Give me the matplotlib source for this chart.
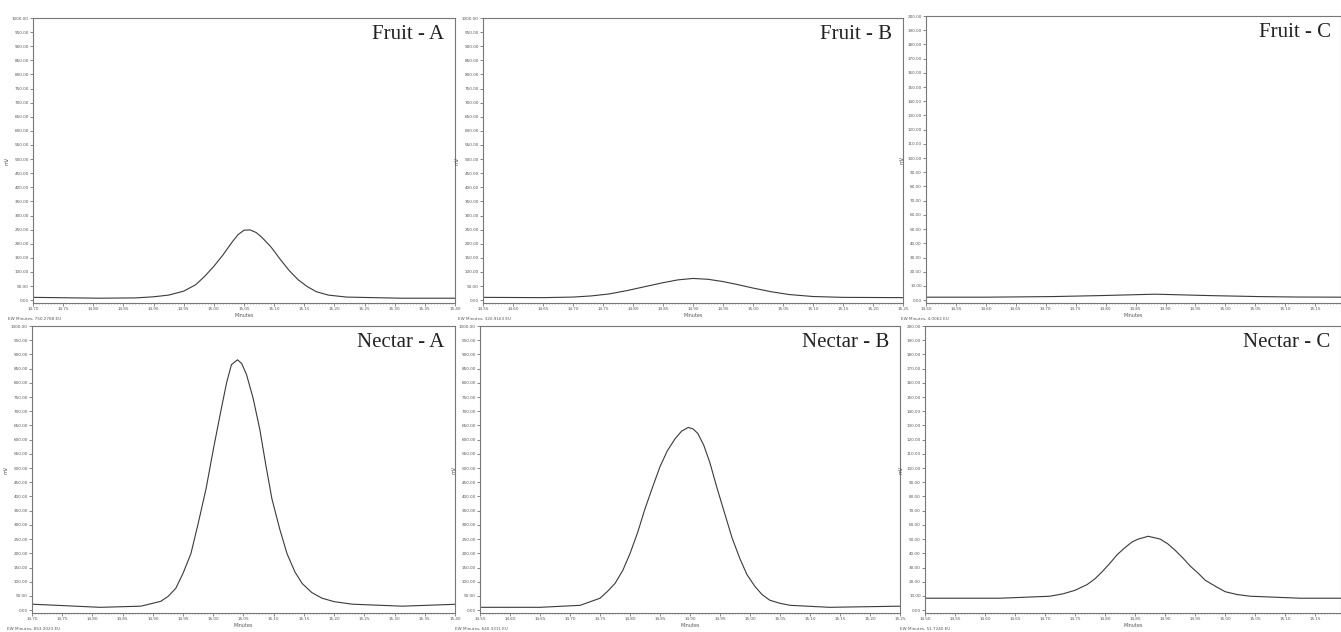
import numpy as np
import matplotlib.pyplot as plt
from matplotlib.ticker import MultipleLocator, FormatStrFormatter

fruit_a_t = [14.70, 14.81, 14.87, 14.90, 14.925, 14.95, 14.97, 14.985, 15.00, 15.015,
             15.03, 15.04, 15.05, 15.06, 15.07, 15.08, 15.095, 15.11, 15.125, 15.14,
             15.155, 15.17, 15.19, 15.22, 15.31, 15.40]
fruit_a_mv = [10, 7, 8, 12, 18, 32, 55, 85, 120, 160,
              205, 232, 248, 249, 240, 222, 188, 145, 105, 72,
              48, 30, 18, 11, 7, 7]

fruit_b_t = [14.55, 14.65, 14.70, 14.73, 14.76, 14.79, 14.82, 14.85, 14.875, 14.90,
             14.925, 14.95, 14.975, 15.00, 15.03, 15.06, 15.10, 15.15, 15.25]
fruit_b_mv = [10, 9, 11, 15, 22, 34, 48, 62, 72, 77,
              74, 66, 55, 43, 30, 20, 13, 10, 9]

fruit_c_t = [14.50, 14.60, 14.708, 14.79, 14.883, 14.975, 15.058, 15.12, 15.193]
fruit_c_mv = [2.1, 2.1, 2.5, 3.2, 4.2, 3.2, 2.5, 2.2, 2.1]

nectar_a_t = [14.70, 14.813, 14.88, 14.913, 14.925, 14.938, 14.95, 14.963, 14.975, 14.988,
              15.00, 15.013, 15.022, 15.03, 15.04, 15.047, 15.055, 15.066, 15.077, 15.087,
              15.097, 15.11, 15.122, 15.135, 15.147, 15.163, 15.18, 15.20, 15.23, 15.313,
              15.405]
nectar_a_mv = [21, 10, 14, 31, 48, 77, 130, 199, 305, 427,
               565, 706, 800, 864, 881, 868, 829, 745, 636, 510,
               392, 285, 199, 135, 94, 62, 42, 30, 21, 14,
               21]

nectar_b_t = [14.55, 14.65, 14.717, 14.75, 14.762, 14.775, 14.788, 14.80, 14.813, 14.825,
              14.838, 14.85, 14.862, 14.875, 14.886, 14.897, 14.905, 14.913, 14.923, 14.933,
              14.945, 14.958, 14.97, 14.983, 14.995, 15.008, 15.02, 15.033, 15.05, 15.067,
              15.133, 15.25]
nectar_b_mv = [10, 10, 17, 42, 65, 94, 140, 199, 275, 357,
               435, 505, 560, 603, 630, 643, 638, 622, 580, 520,
               430, 339, 255, 182, 125, 84, 55, 35, 24, 17,
               10, 14]

nectar_c_t = [14.50, 14.625, 14.708, 14.73, 14.75, 14.77, 14.783, 14.795, 14.808, 14.82,
              14.833, 14.845, 14.855, 14.872, 14.892, 14.905, 14.917, 14.93, 14.942, 14.955,
              14.967, 14.985, 15.00, 15.02, 15.042, 15.125, 15.193]
nectar_c_mv = [8.4, 8.4, 9.8, 11.5, 14, 18, 22, 27, 33, 39,
               44, 48, 50, 52, 50, 46.5, 42, 36.5, 31, 26,
               21, 16.5, 13, 11, 9.8, 8.4, 8.4]

panels = [
    # (nombre, t, mV, xmin, xmax, ymax, paso y, texto pie)
    ("Fruit - A", fruit_a_t, fruit_a_mv, 14.70, 15.40, 1000, 50, "EW Minutes, 750.2788 EU"),
    ("Fruit - B", fruit_b_t, fruit_b_mv, 14.55, 15.25, 1000, 50, "EW Minutes, 320.9163 EU"),
    ("Fruit - C", fruit_c_t, fruit_c_mv, 14.50, 15.193, 200, 10, "EW Minutes, 4.0062 EU"),
    ("Nectar - A", nectar_a_t, nectar_a_mv, 14.70, 15.40, 1000, 50, "EW Minutes, 853.2023 EU"),
    ("Nectar - B", nectar_b_t, nectar_b_mv, 14.55, 15.25, 1000, 50, "EW Minutes, 640.3311 EU"),
    ("Nectar - C", nectar_c_t, nectar_c_mv, 14.50, 15.193, 200, 10, "EW Minutes, 51.7240 EU"),
]

W, H = 1341, 632
# posiciones de los ejes en pixeles (izq, der, arriba, abajo)
boxes = [
    (33, 455, 18, 303), (483, 903, 18, 303), (926, 1341, 16, 303),
    (32, 455, 326, 613), (480, 900, 326, 613), (925, 1341, 326, 613),
]

fig = plt.figure(figsize=(W / 100, H / 100), dpi=100)
line_col = "#3a3a3a"

for (name, t, mv, x0, x1, ymax, ystep, foot), (l, r, tp, b) in zip(panels, boxes):
    ax = fig.add_axes([l / W, 1 - b / H, (r - l) / W, (b - tp) / H])
    ax.plot(t, mv, color=line_col, lw=0.8)
    ax.set_xlim(x0, x1)
    ax.set_ylim(-ymax * 0.01, ymax)
    ax.yaxis.set_major_locator(MultipleLocator(ystep))
    ax.yaxis.set_major_formatter(FormatStrFormatter("%.2f"))
    ax.xaxis.set_major_locator(MultipleLocator(0.05))
    ax.xaxis.set_minor_locator(MultipleLocator(0.005))
    ax.xaxis.set_major_formatter(FormatStrFormatter("%.2f"))
    ax.tick_params(axis="both", labelsize=3, length=2, width=0.5, pad=1,
                   colors="#555555")
    ax.tick_params(axis="x", which="minor", length=1, width=0.4, colors="#777777")
    for s in ax.spines.values():
        s.set_color("#777777")
        s.set_linewidth(0.8)
    ax.set_ylabel("mV", fontsize=3.5, labelpad=2, color="#555555")
    ax.set_xlabel("Minutes", fontsize=3.5, labelpad=1, color="#555555")
    ax.text(0.975, 0.975, name, transform=ax.transAxes, ha="right", va="top",
            fontsize=15, family="Liberation Serif", color="#222222")
    ax.text(-0.06, -0.05, foot, transform=ax.transAxes, ha="left", va="top",
            fontsize=3, color="#555555")

fig.savefig("out.png", dpi=100)
